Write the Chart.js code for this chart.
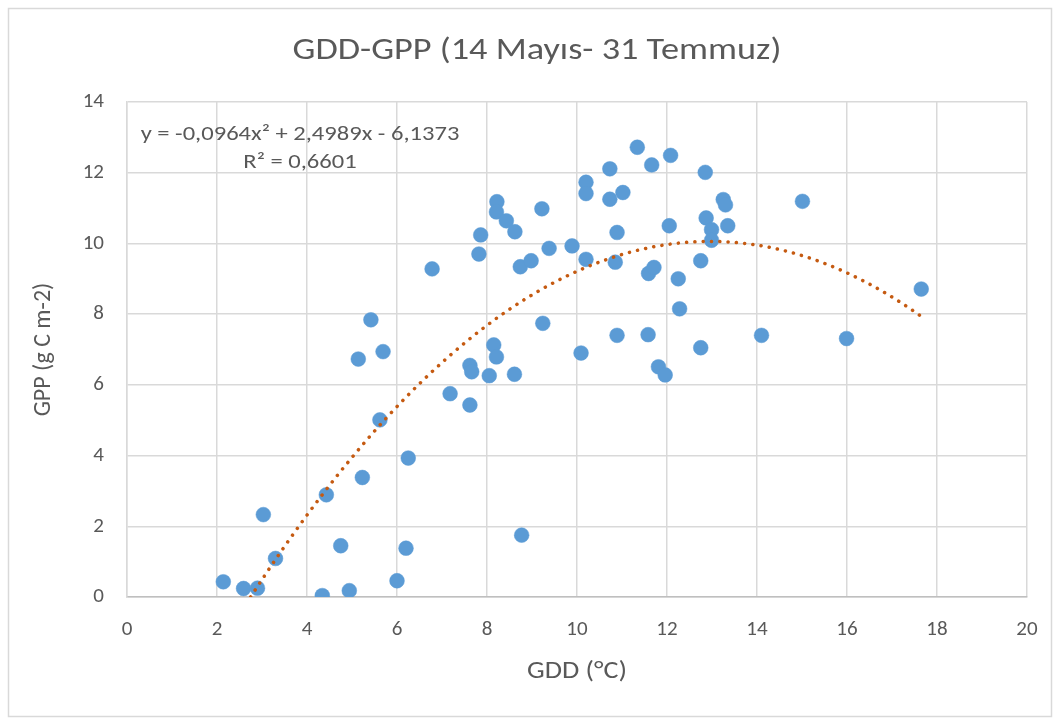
<!DOCTYPE html>
<html>
<head>
<meta charset="utf-8">
<script src="https://cdn.jsdelivr.net/npm/chart.js@4"></script>
<style>
  html, body { margin: 0; padding: 0; background: #ffffff; }
  #wrap { width: 1060px; height: 719px; position: relative; }
</style>
</head>
<body>
<div id="wrap"><canvas id="c" width="1060" height="719"></canvas></div>
<script>
// ---- data ----
const gdd = [2.14, 2.59, 2.90, 3.03, 3.30, 4.34, 4.43, 4.75, 4.94, 5.14,
             5.23, 5.42, 5.62, 5.69, 6.00, 6.20, 6.25, 6.78, 7.18, 7.62,
             7.62, 7.66, 7.82, 7.86, 8.05, 8.15, 8.21, 8.22, 8.21, 8.43,
             8.62, 8.61, 8.74, 8.77, 8.98, 9.22, 9.24, 9.38, 9.89, 10.09,
             10.20, 10.20, 10.20, 10.73, 10.73, 10.85, 10.89, 10.89, 11.02, 11.34,
             11.58, 11.59, 11.66, 11.71, 11.81, 11.96, 12.05, 12.08, 12.25, 12.28,
             12.75, 12.75, 12.85, 12.87, 12.99, 12.99, 13.25, 13.30, 13.35, 14.10,
             15.01, 15.99, 17.65];
const gpp = [0.43, 0.24, 0.25, 2.33, 1.09, 0.04, 2.89, 1.45, 0.18, 6.73,
             3.38, 7.84, 5.01, 6.94, 0.46, 1.38, 3.93, 9.28, 5.75, 5.43,
             6.55, 6.37, 9.70, 10.24, 6.26, 7.13, 6.79, 11.18, 10.89, 10.64,
             10.33, 6.30, 9.34, 1.75, 9.51, 10.98, 7.74, 9.86, 9.93, 6.90,
             11.73, 11.41, 9.55, 12.11, 11.25, 9.47, 10.31, 7.40, 11.44, 12.72,
             7.42, 9.15, 12.22, 9.32, 6.51, 6.28, 10.50, 12.49, 9.00, 8.15,
             9.51, 7.05, 12.01, 10.72, 10.39, 10.09, 11.24, 11.09, 10.50, 7.40,
             11.19, 7.31, 8.71];
// polynomial trendline coefficients shown on the chart: y = a x^2 + b x + c
const trendCoef = [-0.0964, 2.4989, -6.1373];
const trendRange = [2.747, 17.65];
const xTicks = [0, 2, 4, 6, 8, 10, 12, 14, 16, 18, 20];
const yTicks = [0, 2, 4, 6, 8, 10, 12, 14];
const titleText = 'GDD-GPP (14 Mayıs- 31 Temmuz)';
const xTitle = 'GDD (°C)';
const yTitle = 'GPP (g C m-2)';
const eqLine1 = 'y = -0,0964x² + 2,4989x - 6,1373';
const eqLine2 = 'R² = 0,6601';

const FONT = 'Carlito, "Liberation Sans Narrow", "Open Sans", sans-serif';
const TXT = '#595959';
const STRETCH = 1.17;

const points = gdd.map((x, i) => ({ x: x, y: gpp[i] }));
const trend = [];
for (let x = trendRange[0]; x <= trendRange[1] + 1e-9; x += 0.05) {
  trend.push({ x: x, y: trendCoef[0] * x * x + trendCoef[1] * x + trendCoef[2] });
}

function wideText(ctx, text, cx, y) {
  ctx.save();
  ctx.translate(cx, y);
  ctx.scale(STRETCH, 1);
  ctx.fillText(text, 0, 0);
  ctx.restore();
}

const decor = {
  id: 'decor',
  beforeDraw(chart) {
    const ctx = chart.ctx;
    ctx.save();
    ctx.fillStyle = '#ffffff';
    ctx.fillRect(0, 0, chart.width, chart.height);
    ctx.strokeStyle = '#D9D9D9';
    ctx.lineWidth = 1.5;
    ctx.strokeRect(8.5, 8.5, 1043, 708);
    ctx.restore();
  },
  afterDraw(chart) {
    const ctx = chart.ctx;
    const a = chart.chartArea;
    ctx.save();
    ctx.fillStyle = TXT;
    ctx.textAlign = 'center';
    ctx.textBaseline = 'alphabetic';
    ctx.font = '31px ' + FONT;
    wideText(ctx, titleText, 537, 59);
    ctx.font = '24px ' + FONT;
    wideText(ctx, xTitle, (a.left + a.right) / 2, 678);
    ctx.save();
    ctx.translate(50, (a.top + a.bottom) / 2);
    ctx.rotate(-Math.PI / 2);
    ctx.fillText(yTitle, 0, 0);
    ctx.restore();
    ctx.font = '21px ' + FONT;
    wideText(ctx, eqLine1, 300, 140);
    wideText(ctx, eqLine2, 300, 168);
    ctx.restore();
  }
};

new Chart(document.getElementById('c'), {
  type: 'scatter',
  data: {
    datasets: [
      {
        label: 'trend',
        data: trend,
        showLine: true,
        borderColor: '#C55A11',
        borderWidth: 3.5,
        borderDash: [0.1, 8.2],
        borderCapStyle: 'round',
        pointRadius: 0,
        fill: false,
        tension: 0,
        order: 0
      },
      {
        label: 'GPP',
        data: points,
        backgroundColor: '#5B9BD5',
        borderColor: '#5B9BD5',
        borderWidth: 0.5,
        pointRadius: 7.4,
        pointHoverRadius: 7.4,
        order: 1
      }
    ]
  },
  plugins: [decor],
  options: {
    responsive: false,
    animation: false,
    devicePixelRatio: 1,
    layout: { padding: { left: 0, top: 102, right: 33, bottom: 0 } },
    plugins: { legend: { display: false }, tooltip: { enabled: false }, title: { display: false } },
    scales: {
      x: {
        type: 'linear',
        min: 0, max: 20,
        afterBuildTicks(scale) { scale.ticks = xTicks.map(v => ({ value: v })); },
        afterFit(scale) { scale.height = 122; },
        grid: { color: '#D9D9D9', lineWidth: 1.5, drawTicks: false },
        border: { color: '#BFBFBF', width: 1.5 },
        ticks: { color: TXT, font: { family: FONT, size: 21 }, padding: 20, maxRotation: 0 }
      },
      y: {
        type: 'linear',
        min: 0, max: 14,
        afterBuildTicks(scale) { scale.ticks = yTicks.map(v => ({ value: v })); },
        afterFit(scale) { scale.width = 127; },
        grid: { color: '#D9D9D9', lineWidth: 1.5, drawTicks: false },
        border: { color: '#D9D9D9', width: 1.5 },
        ticks: { color: TXT, font: { family: FONT, size: 21 }, padding: 23 }
      }
    }
  }
});
</script>
</body>
</html>
